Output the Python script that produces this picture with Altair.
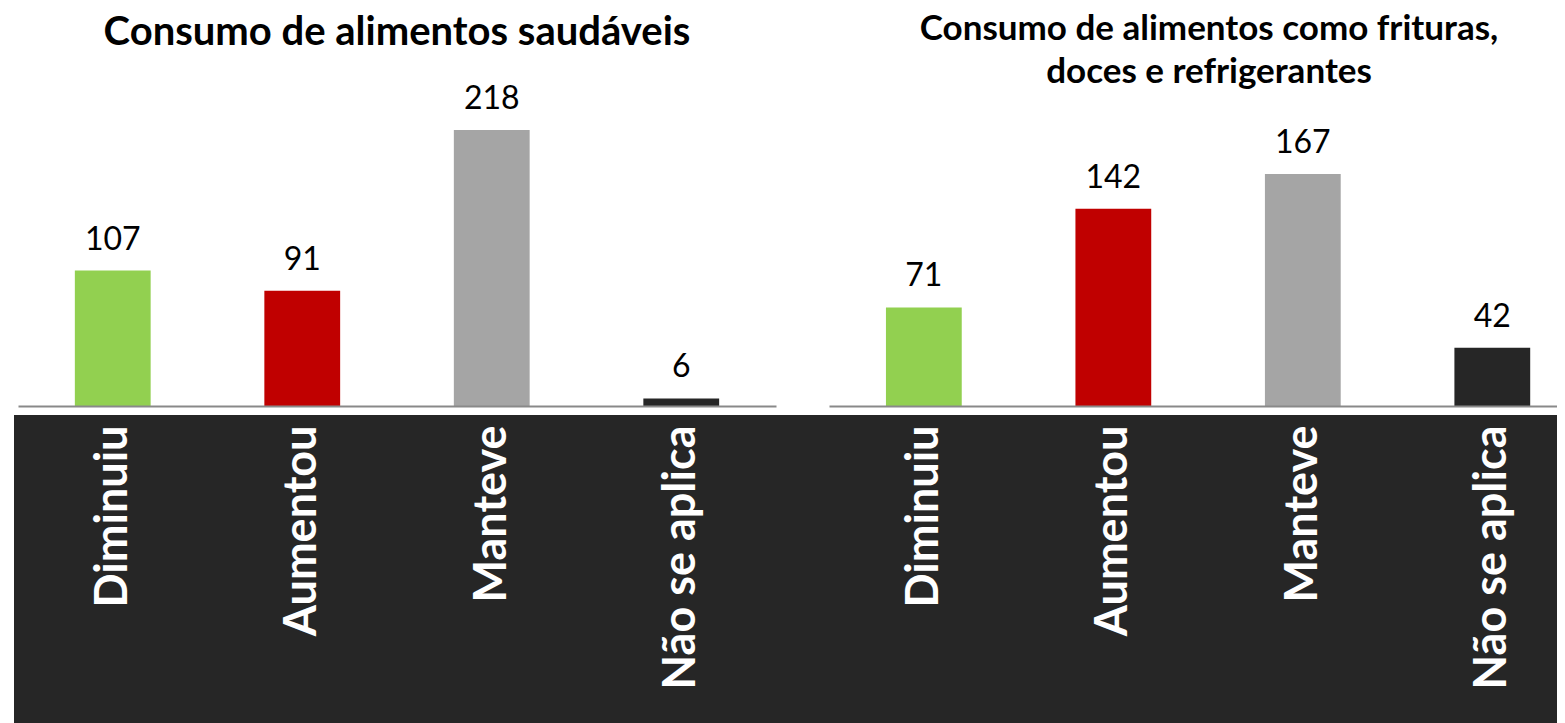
import altair as alt
import pandas as pd

categories = ["Diminuiu", "Aumentou", "Manteve", "Não se aplica"]
healthy_values = [107, 91, 218, 6]
unhealthy_values = [71, 142, 167, 42]
bar_colors = ["#92D050", "#C00000", "#A5A5A5", "#262626"]

title_left = ["Consumo de alimentos saudáveis"]
title_right = ["Consumo de alimentos como frituras,", "doces e refrigerantes"]

FONT = "Lato"
H = 300
DARK = "#262626"


def panel(values, ymax, width, xscale, title, title_size, title_dx, title_y,
          bg_x1, bg_x2):
    df = pd.DataFrame({"cat": categories, "val": values})
    x = alt.X(
        "cat:N",
        sort=categories,
        scale=xscale,
        axis=alt.Axis(
            title=None,
            labelAngle=270,
            labelColor="white",
            labelFont=FONT,
            labelFontWeight="bold",
            labelFontSize=45,
            labelPadding=19,
            labelLimit=0,
            ticks=False,
            domainColor="#898989",
            domainWidth=2,
            zindex=1,
        ),
    )
    y = alt.Y("val:Q", scale=alt.Scale(domain=[0, ymax], nice=False), axis=None)
    one = pd.DataFrame({"k": [1]})
    bg = alt.Chart(one).mark_rect(color=DARK).encode(
        x=alt.value(bg_x1), x2=alt.value(bg_x2),
        y=alt.value(H + 9), y2=alt.value(H + 330),
    )
    ttl = alt.Chart(one).mark_text(
        font=FONT, fontSize=title_size, fontWeight="bold", color="black",
        align="center", baseline="alphabetic", lineHeight=43,
    ).encode(
        x=alt.value(width / 2 + title_dx), y=alt.value(title_y), text=alt.value(title)
    )
    bars = alt.Chart(df).mark_bar().encode(
        x=x,
        y=y,
        color=alt.Color("cat:N", scale=alt.Scale(domain=categories, range=bar_colors), legend=None),
    )
    labels = alt.Chart(df).mark_text(
        baseline="alphabetic", dy=-21, font=FONT, fontSize=32, color="black"
    ).encode(x=x, y=y, text="val:Q")
    return alt.layer(bg, ttl, bars, labels).properties(width=width, height=H)


left = panel(
    healthy_values, 237, 758,
    alt.Scale(paddingInner=0.6, paddingOuter=0.3),
    title_left, 40, 0, -61, -4, 811,
)
right = panel(
    unhealthy_values, 216, 728,
    alt.Scale(paddingInner=0.6, paddingOuter=0.221, align=0.68),
    title_right, 35, 16, -66, -1, 728,
)

chart = alt.hconcat(left, right, spacing=53, bounds="flush").properties(
    padding={"left": 6, "top": 4, "right": 0, "bottom": 0}
).configure_view(stroke=None)

chart.save("out.html", embed_options={"renderer": "svg", "actions": False})
